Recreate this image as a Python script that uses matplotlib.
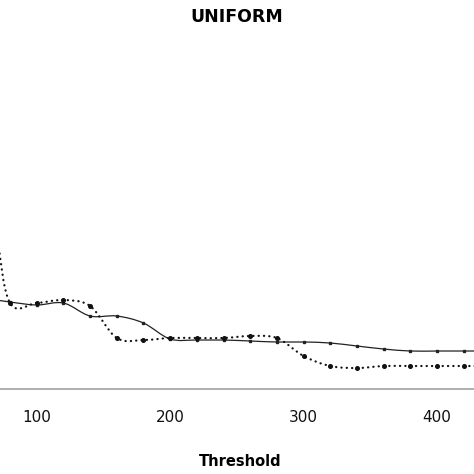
import numpy as np
import matplotlib
matplotlib.use('Agg')
import matplotlib.pyplot as plt
from matplotlib.path import Path
from matplotlib.patches import PathPatch

# Dades llegides de la figura (llindar, valors de les dues sèries)
llindar_continua = [60, 80, 100, 120, 140, 160, 180, 200, 220, 240, 260, 280,
                    300, 320, 340, 360, 380, 400, 420, 440]
serie_continua = [0.091, 0.087, 0.084, 0.086, 0.073, 0.073, 0.066, 0.050,
                  0.049, 0.049, 0.048, 0.047, 0.047, 0.046, 0.043, 0.040,
                  0.038, 0.038, 0.038, 0.038]
llindar_puntejada = [60, 70, 80, 100, 120, 140, 160, 180, 200, 220, 240, 260,
                     280, 300, 320, 340, 360, 380, 400, 420, 440]
serie_puntejada = [0.300, 0.160, 0.086, 0.086, 0.089, 0.083, 0.051, 0.049,
                   0.051, 0.051, 0.051, 0.053, 0.051, 0.033, 0.023, 0.021,
                   0.023, 0.023, 0.023, 0.023, 0.023]
xticks = [100, 200, 300, 400]


def cami_suau(x, y):
    # corba suavitzada tipus Excel (Catmull-Rom -> Bezier)
    pts = np.column_stack([x, y]).astype(float)
    verts = [pts[0]]
    codes = [Path.MOVETO]
    n = len(pts)
    for i in range(n - 1):
        p0 = pts[max(i - 1, 0)]
        p1 = pts[i]
        p2 = pts[i + 1]
        p3 = pts[min(i + 2, n - 1)]
        c1 = p1 + (p2 - p0) / 6
        c2 = p2 - (p3 - p1) / 6
        verts += [c1, c2, p2]
        codes += [Path.CURVE4] * 3
    return Path(verts, codes)


fig = plt.figure(figsize=(4.74, 4.74), dpi=100)
ax = fig.add_axes([0, 0.1793, 1, 0.7363])

# Sèrie contínua
ax.add_patch(PathPatch(cami_suau(llindar_continua, serie_continua),
                       facecolor='none', edgecolor='#222222', lw=0.9))
ax.plot(llindar_continua, serie_continua, ls='none', marker='s', ms=1.8,
        color='#222222')

# Sèrie puntejada
ax.add_patch(PathPatch(cami_suau(llindar_puntejada, serie_puntejada),
                       facecolor='none', edgecolor='#111111', lw=1.6,
                       ls=(0, (0.1, 2.3)), capstyle='round'))
ax.plot(llindar_puntejada, serie_puntejada, ls='none', marker='o', ms=2.6,
        color='#111111')

ax.set_xlim(72.5, 427.7)
ax.set_ylim(0, 0.349)
for s in ['top', 'left', 'right']:
    ax.spines[s].set_visible(False)
ax.spines['bottom'].set_color('#a8a8a8')
ax.spines['bottom'].set_linewidth(1.3)
ax.set_yticks([])
ax.set_xticks(xticks)
ax.tick_params(axis='x', length=0, pad=15, labelsize=11, labelcolor='#111111')

fig.text(237 / 474, 1 - 17 / 474, 'UNIFORM', ha='center', va='center',
         fontsize=12.5, fontweight='bold')
fig.text(240 / 474, 1 - 462 / 474, 'Threshold', ha='center', va='center',
         fontsize=10.5, fontweight='bold')

plt.savefig('out.png', dpi=100)
